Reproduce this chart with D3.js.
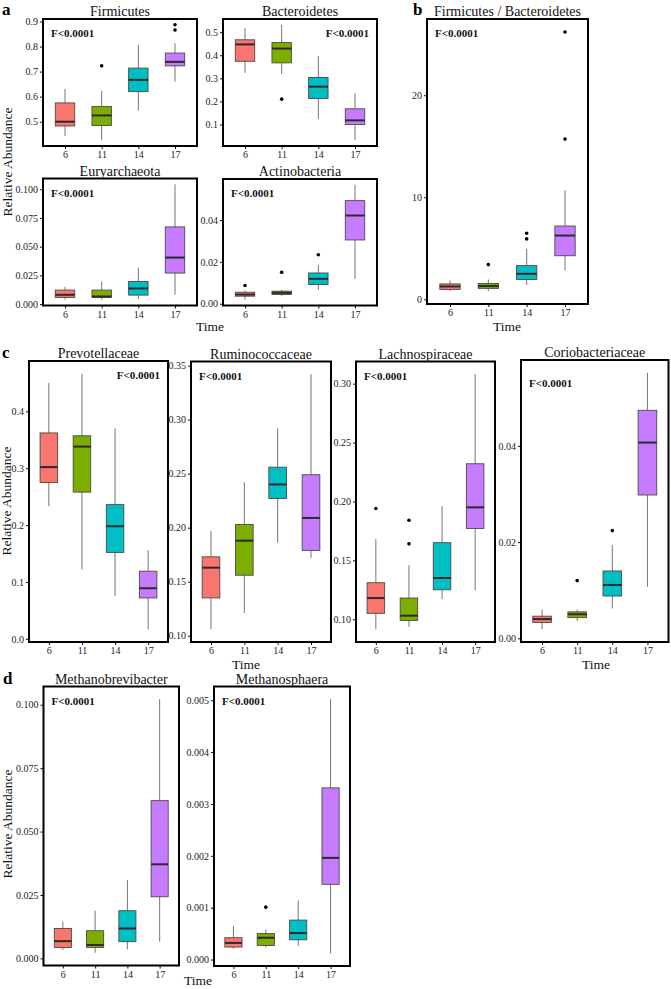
<!DOCTYPE html>
<html>
<head>
<meta charset="utf-8">
<script src="https://cdn.jsdelivr.net/npm/d3@7"></script>
<style>
  body { margin: 0; background: #fff; }
  svg text { font-family: "Liberation Serif", "Times New Roman", serif; }
</style>
</head>
<body>
<div id="chart"></div>
<script>

// time points (categories)
let times = ["6", "11", "14", "17"];

// box stats per time: [low whisker, q1, median, q3, high whisker]
let firmicutes = [[0.443, 0.483, 0.500, 0.575, 0.631], [0.426, 0.485, 0.525, 0.561, 0.623], [0.544, 0.620, 0.667, 0.714, 0.807], [0.660, 0.723, 0.739, 0.774, 0.813]];
let firmicutes_out = [[], [0.723], [], [0.866, 0.887]];

let bacteroidetes = [[0.324, 0.374, 0.447, 0.467, 0.517], [0.319, 0.367, 0.429, 0.455, 0.532], [0.124, 0.213, 0.264, 0.304, 0.396], [0.032, 0.100, 0.118, 0.168, 0.236]];
let bacteroidetes_out = [[], [0.21], [], []];

let euryarchaeota = [[0.0040, 0.0058, 0.0081, 0.0122, 0.0150], [0.0038, 0.0058, 0.0066, 0.0122, 0.0197], [0.0044, 0.0078, 0.0136, 0.0197, 0.0318], [0.0081, 0.0270, 0.0405, 0.0672, 0.1043]];
let euryarchaeota_out = [[], [], [], []];

let actinobacteria = [[0.0019, 0.0036, 0.0044, 0.0055, 0.0063], [0.0038, 0.0044, 0.0052, 0.0060, 0.0066], [0.0066, 0.0092, 0.0119, 0.0147, 0.0185], [0.0119, 0.0305, 0.0422, 0.0493, 0.0569]];
let actinobacteria_out = [[0.0087], [0.015], [0.0234], []];

let firm_bact = [[0.81, 0.97, 1.26, 1.51, 1.84], [0.81, 1.07, 1.30, 1.55, 1.94], [1.40, 1.94, 2.50, 3.30, 4.95], [2.82, 4.27, 6.25, 7.18, 10.68]];
let firm_bact_out = [[], [3.40], [5.92, 6.48], [15.7, 26.2]];

let prevotellaceae = [[0.233, 0.275, 0.302, 0.362, 0.450], [0.122, 0.258, 0.338, 0.357, 0.466], [0.075, 0.152, 0.198, 0.236, 0.370], [0.017, 0.072, 0.089, 0.119, 0.156]];
let prevotellaceae_out = [[], [], [], []];

let ruminococcaceae = [[0.106, 0.135, 0.163, 0.173, 0.197], [0.121, 0.156, 0.188, 0.203, 0.242], [0.186, 0.227, 0.240, 0.256, 0.292], [0.172, 0.179, 0.209, 0.249, 0.342]];
let ruminococcaceae_out = [[], [], [], []];

let lachnospiraceae = [[0.0915, 0.105, 0.118, 0.131, 0.168], [0.0935, 0.099, 0.103, 0.118, 0.146], [0.117, 0.125, 0.135, 0.165, 0.196], [0.1245, 0.177, 0.195, 0.232, 0.308]];
let lachnospiraceae_out = [[0.194], [0.164, 0.184], [], []];

let coriobacteriaceae = [[0.0019, 0.0033, 0.0040, 0.0046, 0.0060], [0.0036, 0.0043, 0.0050, 0.0055, 0.0060], [0.0062, 0.0088, 0.0111, 0.0140, 0.0194], [0.0107, 0.0298, 0.0407, 0.0474, 0.0552]];
let coriobacteriaceae_out = [[], [0.012], [0.0224], []];

let methanobrevibacter = [[0.0033, 0.0043, 0.0068, 0.0118, 0.0145], [0.0022, 0.0043, 0.0053, 0.0109, 0.0188], [0.0036, 0.0066, 0.0118, 0.0188, 0.0309], [0.0066, 0.0243, 0.0371, 0.0622, 0.1022]];
let methanobrevibacter_out = [[], [], [], []];

let methanosphaera = [[0.00021, 0.00024, 0.00032, 0.00042, 0.00065], [0.00023, 0.00027, 0.00042, 0.00050, 0.00058], [0.00026, 0.00038, 0.00051, 0.00076, 0.00114], [0.00012, 0.00145, 0.00196, 0.00331, 0.00502]];
let methanosphaera_out = [[], [0.00101], [], []];

// y tick labels
let ticks_firm = ["0.5", "0.6", "0.7", "0.8", "0.9"];
let ticks_bact = ["0.1", "0.2", "0.3", "0.4", "0.5"];
let ticks_eury = ["0.000", "0.025", "0.050", "0.075", "0.100"];
let ticks_acti = ["0.00", "0.02", "0.04"];
let ticks_fb = ["0", "10", "20"];
let ticks_prev = ["0.0", "0.1", "0.2", "0.3", "0.4"];
let ticks_rumi = ["0.10", "0.15", "0.20", "0.25", "0.30", "0.35"];
let ticks_lach = ["0.10", "0.15", "0.20", "0.25", "0.30"];
let ticks_cori = ["0.00", "0.02", "0.04"];
let ticks_mbre = ["0.000", "0.025", "0.050", "0.075", "0.100"];
let ticks_msph = ["0.000", "0.001", "0.002", "0.003", "0.004", "0.005"];

let p_label = "F<0.0001";

let colors = ["#F8766D", "#7CAE00", "#00BFC4", "#C77CFF"];

let serif = "Liberation Serif, Times New Roman, serif";

// panel layout: x0, y0, x1, y1 in px, where the F label goes
let panels = [
  {title: "Firmicutes", stats: firmicutes, out: firmicutes_out, ticks: ticks_firm, box: [43, 19, 197, 146], f: "left"},
  {title: "Bacteroidetes", stats: bacteroidetes, out: bacteroidetes_out, ticks: ticks_bact, box: [223, 19, 377, 146], f: "right"},
  {title: "Euryarchaeota", stats: euryarchaeota, out: euryarchaeota_out, ticks: ticks_eury, box: [43, 178.5, 197, 305.5], f: "left"},
  {title: "Actinobacteria", stats: actinobacteria, out: actinobacteria_out, ticks: ticks_acti, box: [223, 179, 377, 305.5], f: "left"},
  {title: "Firmicutes / Bacteroidetes", stats: firm_bact, out: firm_bact_out, ticks: ticks_fb, box: [427, 19, 588, 304], f: "left"},
  {title: "Prevotellaceae", stats: prevotellaceae, out: prevotellaceae_out, ticks: ticks_prev, box: [29, 361, 168, 642], f: "right"},
  {title: "Ruminococcaceae", stats: ruminococcaceae, out: ruminococcaceae_out, ticks: ticks_rumi, box: [191, 361.5, 331, 642], f: "left"},
  {title: "Lachnospiraceae", stats: lachnospiraceae, out: lachnospiraceae_out, ticks: ticks_lach, box: [356, 361.5, 495, 642], f: "left"},
  {title: "Coriobacteriaceae", stats: coriobacteriaceae, out: coriobacteriaceae_out, ticks: ticks_cori, box: [521, 360, 668.5, 642], f: "left", fdy: 9},
  {title: "Methanobrevibacter", stats: methanobrevibacter, out: methanobrevibacter_out, ticks: ticks_mbre, box: [43.5, 686.5, 179, 965.5], f: "left"},
  {title: "Methanosphaera", stats: methanosphaera, out: methanosphaera_out, ticks: ticks_msph, box: [214, 686.5, 350, 966], f: "left"}
];

let letters = [["a", 2, 15], ["b", 413, 15], ["c", 2, 358], ["d", 3, 684]];
let y_labels = [[8, 162], [7, 501], [8, 824]];
let x_labels = [[210, 331], [507, 331], [246, 669], [596, 669], [198, 985]];

let svg = d3.select("#chart").append("svg")
  .attr("width", 671)
  .attr("height", 989)
  .style("background", "#fff");

panels.forEach((p) => {
  let [x0, y0, x1, y1] = p.box;

  let all_vals = p.stats.flat().concat(p.out.flat());
  let lo = d3.min(all_vals), hi = d3.max(all_vals);
  let pad = (hi - lo) * 0.05;

  let y = d3.scaleLinear().domain([lo - pad, hi + pad]).range([y1, y0]);
  let x = d3.scalePoint().domain(times).range([x0, x1]).padding(0.6);
  let bw = x.step() * 0.53;

  let g = svg.append("g");

  // y axis
  let tick_vals = p.ticks.map(t => +t);
  let ya = g.append("g")
    .attr("transform", `translate(${x0},0)`)
    .call(d3.axisLeft(y).tickValues(tick_vals).tickFormat((d, i) => p.ticks[i]).tickSize(3).tickPadding(2));
  ya.select(".domain").remove();

  let xa = g.append("g")
    .attr("transform", `translate(0,${y1})`)
    .call(d3.axisBottom(x).tickSize(3).tickPadding(2));
  xa.select(".domain").remove();

  g.selectAll(".tick text")
    .attr("font-family", serif)
    .style("font-size", "10px")
    .style("fill", "#222");
  g.selectAll(".tick line").style("stroke", "#111").style("stroke-width", 1);

  // boxes
  let grp = g.selectAll(".grp")
    .data(p.stats)
    .join("g")
    .attr("class", "grp");

  grp.append("line")
    .attr("x1", (d, i) => x(times[i]))
    .attr("x2", (d, i) => x(times[i]))
    .attr("y1", d => y(d[0]))
    .attr("y2", d => y(d[4]))
    .style("stroke", "#666")
    .style("stroke-width", 0.9);

  grp.append("rect")
    .attr("x", (d, i) => x(times[i]) - bw / 2)
    .attr("width", bw)
    .attr("y", d => y(d[3]))
    .attr("height", d => Math.max(1, y(d[1]) - y(d[3])))
    .style("fill", (d, i) => colors[i])
    .style("stroke", "#4a4a4a")
    .style("stroke-width", 0.9);

  grp.append("line")
    .attr("x1", (d, i) => x(times[i]) - bw / 2)
    .attr("x2", (d, i) => x(times[i]) + bw / 2)
    .attr("y1", d => y(d[2]))
    .attr("y2", d => y(d[2]))
    .style("stroke", "#2b2b2b")
    .style("stroke-width", 2);

  // outliers
  let pts = [];
  p.out.forEach((arr, i) => arr.forEach(v => pts.push([times[i], v])));
  g.selectAll(".out")
    .data(pts)
    .join("circle")
    .attr("class", "out")
    .attr("cx", d => x(d[0]))
    .attr("cy", d => y(d[1]))
    .attr("r", 1.8)
    .style("fill", "#000");

  // frame
  g.append("rect")
    .attr("x", x0).attr("y", y0)
    .attr("width", x1 - x0).attr("height", y1 - y0)
    .style("fill", "none")
    .style("stroke", "#000")
    .style("stroke-width", 2);

  // title
  g.append("text")
    .attr("x", (x0 + x1) / 2)
    .attr("y", y0 - 3)
    .attr("text-anchor", "middle")
    .attr("font-family", serif)
    .style("font-size", "14px")
    .style("fill", "#111")
    .text(p.title);

  // F label
  let fy = y0 + 18 + (p.fdy || 0);
  g.append("text")
    .attr("x", p.f == "left" ? x0 + 8 : x1 - 8)
    .attr("y", fy)
    .attr("text-anchor", p.f == "left" ? "start" : "end")
    .attr("font-family", serif)
    .style("font-size", "11px")
    .style("font-weight", "bold")
    .style("fill", "#111")
    .text(p_label);
});

letters.forEach((l) => {
  svg.append("text")
    .attr("x", l[1]).attr("y", l[2])
    .attr("font-family", serif)
    .style("font-size", "17px")
    .style("font-weight", "bold")
    .text(l[0]);
});

y_labels.forEach((l) => {
  svg.append("text")
    .attr("transform", `translate(${l[0] + 4},${l[1]}) rotate(-90)`)
    .attr("text-anchor", "middle")
    .attr("font-family", serif)
    .style("font-size", "13.5px")
    .style("fill", "#111")
    .text("Relative Abundance");
});

x_labels.forEach((l) => {
  svg.append("text")
    .attr("x", l[0]).attr("y", l[1])
    .attr("text-anchor", "middle")
    .attr("font-family", serif)
    .style("font-size", "13.5px")
    .style("fill", "#111")
    .text("Time");
});

</script>
</body>
</html>
